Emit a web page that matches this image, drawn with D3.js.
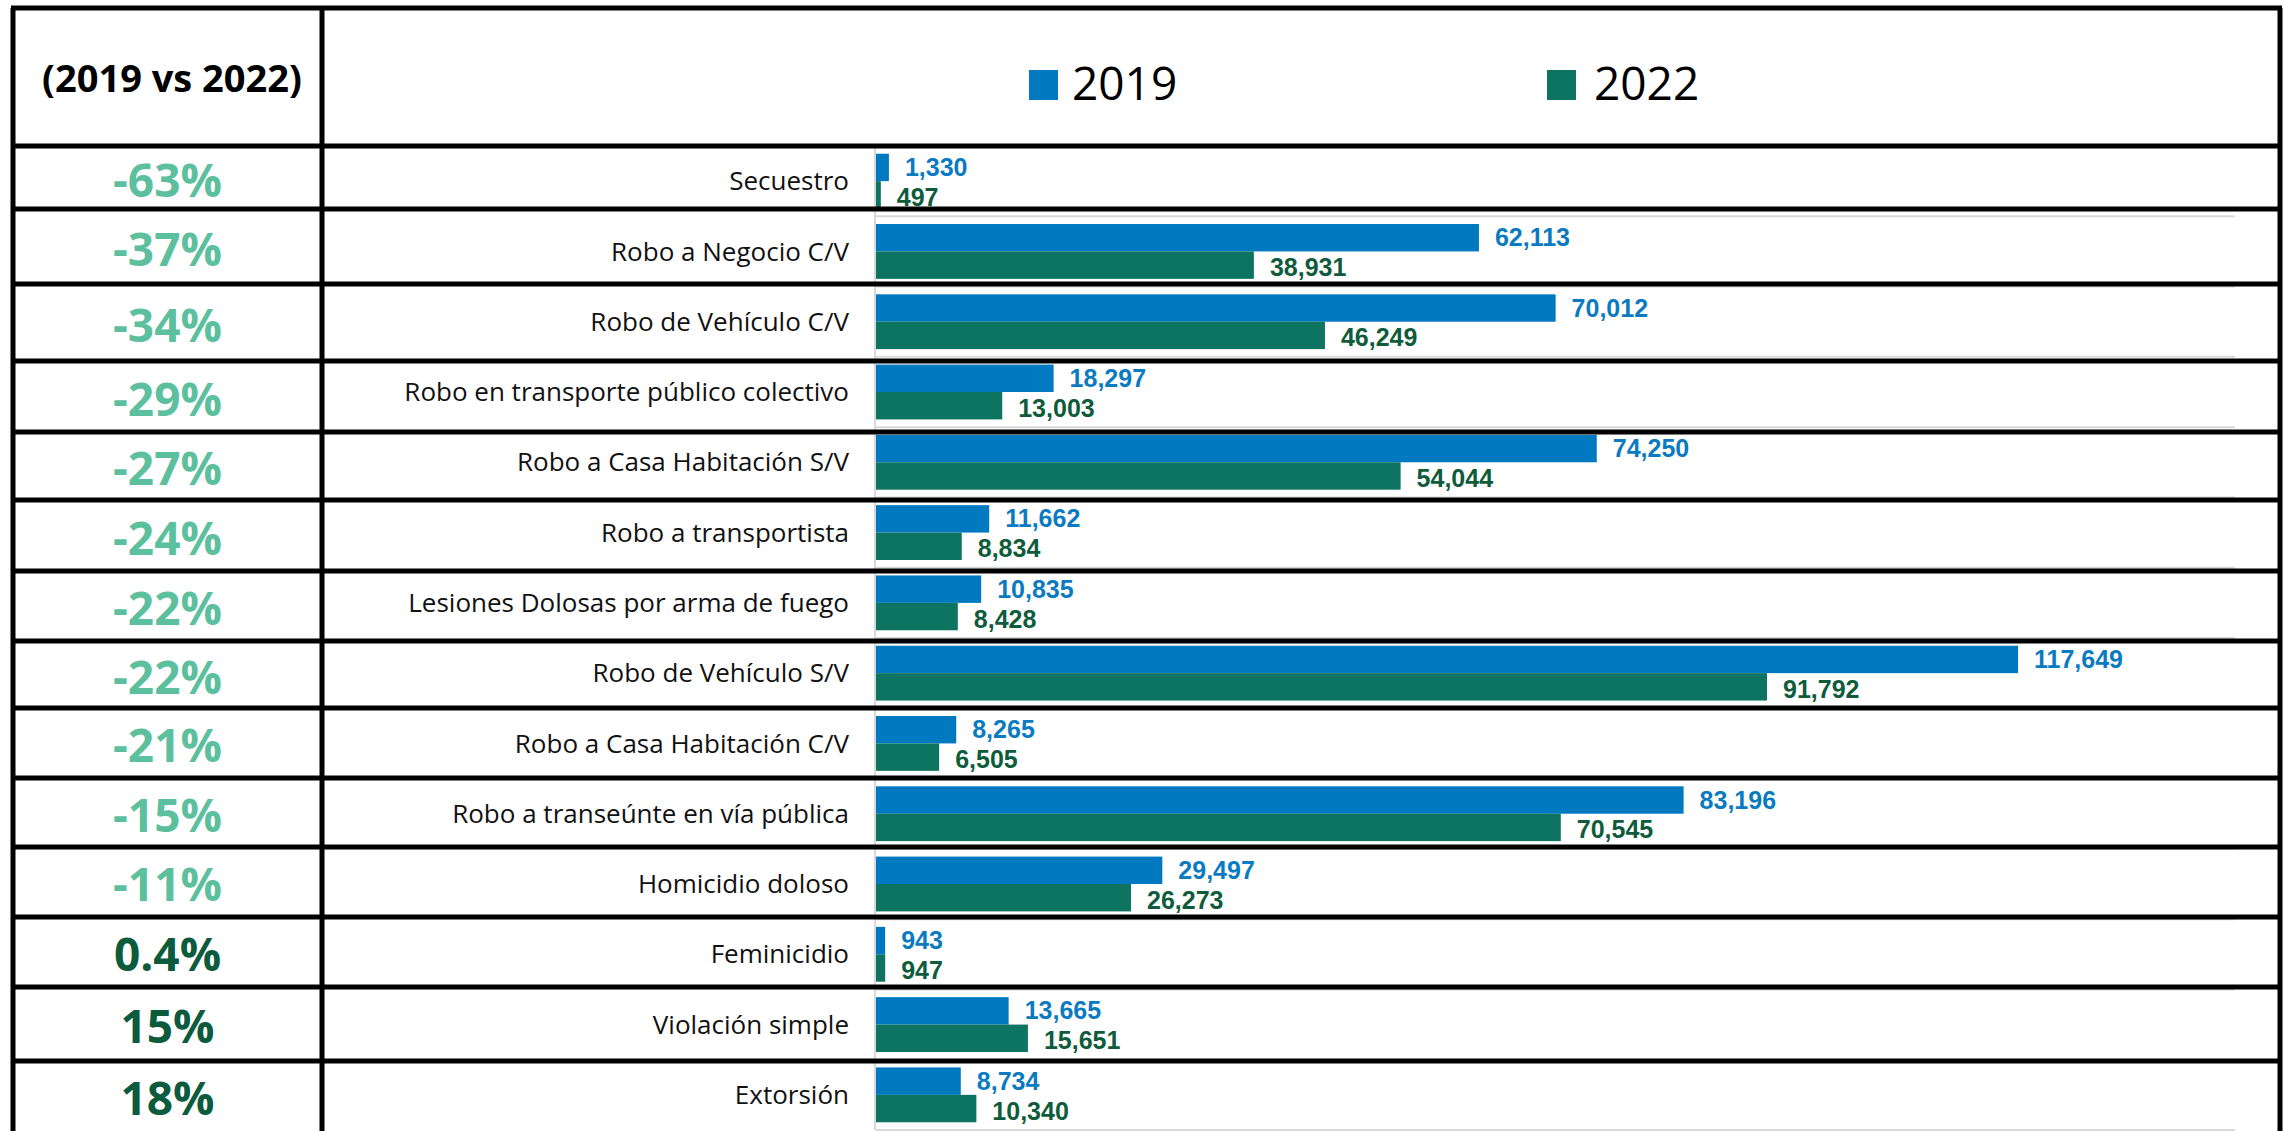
<!DOCTYPE html>
<html>
<head>
<meta charset="utf-8">
<script src="https://cdn.jsdelivr.net/npm/d3@7"></script>
<style>
  html, body { margin: 0; padding: 0; background: #fff; }
  svg { display: block; }
</style>
</head>
<body>
<svg id="chart" width="2290" height="1131"></svg>
<script>
// ---------- DATA ----------
const categories = [
  "Secuestro",
  "Robo a Negocio C/V",
  "Robo de Vehículo C/V",
  "Robo en transporte público colectivo",
  "Robo a Casa Habitación S/V",
  "Robo a transportista",
  "Lesiones Dolosas por arma de fuego",
  "Robo de Vehículo S/V",
  "Robo a Casa Habitación C/V",
  "Robo a transeúnte en vía pública",
  "Homicidio doloso",
  "Feminicidio",
  "Violación simple",
  "Extorsión"
];
const values2019 = [1330, 62113, 70012, 18297, 74250, 11662, 10835, 117649, 8265, 83196, 29497, 943, 13665, 8734];
const values2022 = [497, 38931, 46249, 13003, 54044, 8834, 8428, 91792, 6505, 70545, 26273, 947, 15651, 10340];
const changeLabels = ["-63%", "-37%", "-34%", "-29%", "-27%", "-24%", "-22%", "-22%", "-21%", "-15%", "-11%", "0.4%", "15%", "18%"];
const seriesNames = ["2019", "2022"];
const headerTitle = "(2019 vs 2022)";

// ---------- LAYOUT / STYLE ----------
const W = 2290, H = 1131;
const colors = { "2019": "#0079C1", "2022": "#0D7462" };
const labelColors = { "2019": "#0B7BC1", "2022": "#0E5C3C" };
const pctNeg = "#5CBF9D", pctPos = "#0B5B3C";
const FONT = "'Open Sans', 'Liberation Sans', sans-serif";
const VFONT = "'Liberation Sans', Arial, sans-serif";

const tableLeft = 13, tableDivider = 322, tableRight = 2280, tableTop = 8;
const rowLines = [146, 209, 284, 361, 432, 500, 571, 641, 708, 778, 847, 917, 987, 1061];
const lineW = 5;

const svg = d3.select("#chart");

// ---------- SCALES ----------
const x = d3.scaleLinear().domain([0, 140000]).range([876, 2235]);
const y = d3.scaleBand().domain(categories).range([146, 1130]).paddingInner(0.22).paddingOuter(0.11);
const ySub = d3.scaleBand().domain(seriesNames).range([0, y.bandwidth()]);
const fmt = d3.format(",");

// ---------- CHART GRID (category separators) ----------
const step = y.step();
const gridYs = d3.range(categories.length + 1).map(i => y.range()[0] + i * step);
svg.append("g").selectAll("line").data(gridYs).join("line")
  .attr("x1", x(0)).attr("x2", x.range()[1])
  .attr("y1", d => d).attr("y2", d => d)
  .attr("stroke", "#D9D9D9").attr("stroke-width", 2);

// vertical category axis line
svg.append("line")
  .attr("x1", x(0) - 1).attr("x2", x(0) - 1)
  .attr("y1", y.range()[0]).attr("y2", y.range()[1])
  .attr("stroke", "#D9D9D9").attr("stroke-width", 2);

// ---------- BARS ----------
const rows = categories.map((c, i) => ({ cat: c, "2019": values2019[i], "2022": values2022[i] }));
const groups = svg.append("g").selectAll("g").data(rows).join("g")
  .attr("transform", d => `translate(0,${y(d.cat)})`);

groups.selectAll("rect").data(d => seriesNames.map(s => ({ s, v: d[s] }))).join("rect")
  .attr("x", x(0))
  .attr("y", d => ySub(d.s))
  .attr("width", d => x(d.v) - x(0))
  .attr("height", ySub.bandwidth())
  .attr("fill", d => colors[d.s]);

groups.selectAll("text.val").data(d => seriesNames.map(s => ({ s, v: d[s] }))).join("text")
  .attr("class", "val")
  .attr("x", d => x(d.v) + 16)
  .attr("y", d => ySub(d.s) + ySub.bandwidth() / 2 + (d.s === "2019" ? 8.5 : 11))
  .attr("fill", d => labelColors[d.s])
  .attr("font-family", VFONT).attr("font-weight", 700).attr("font-size", 25)
  .text(d => fmt(d.v));

// ---------- CATEGORY LABELS (axis) ----------
const yAxis = d3.axisLeft(y).tickSize(0).tickPadding(0);
const axG = svg.append("g").attr("transform", `translate(${x(0) - 27},0)`).call(yAxis);
axG.select(".domain").remove();
axG.selectAll("text")
  .attr("font-family", FONT).attr("font-size", 26).attr("fill", "#111")
  .attr("dy", "0.35em");

// ---------- LEGEND ----------
const legendItems = [
  { s: "2019", sx: 1029, tx: 1072 },
  { s: "2022", sx: 1547, tx: 1594 }
];
const lg = svg.append("g").selectAll("g").data(legendItems).join("g");
lg.append("rect").attr("x", d => d.sx).attr("y", 70).attr("width", 29).attr("height", 30)
  .attr("fill", d => colors[d.s]);
lg.append("text").attr("x", d => d.tx).attr("y", 100)
  .attr("font-family", FONT).attr("font-size", 46).attr("fill", "#000")
  .text(d => d.s);

// ---------- TABLE: header + percentage column ----------
svg.append("text")
  .attr("x", 172).attr("y", 92).attr("text-anchor", "middle")
  .attr("font-family", FONT).attr("font-weight", 700).attr("font-size", 38).attr("fill", "#000")
  .text(headerTitle);

const rowBounds = rowLines.map((t, i) => [t, i < rowLines.length - 1 ? rowLines[i + 1] : H]);
svg.append("g").selectAll("text").data(changeLabels).join("text")
  .attr("x", (tableLeft + tableDivider) / 2)
  .attr("y", (d, i) => (rowBounds[i][0] + rowBounds[i][1]) / 2 + 19)
  .attr("text-anchor", "middle")
  .attr("font-family", FONT).attr("font-weight", 700).attr("font-size", 46)
  .attr("fill", d => d.trim().startsWith("-") ? pctNeg : pctPos)
  .text(d => d);

// table lines
const tl = svg.append("g").attr("stroke", "#000").attr("stroke-width", lineW);
tl.append("line").attr("x1", tableLeft - 2).attr("x2", tableRight + 2).attr("y1", tableTop).attr("y2", tableTop);
tl.selectAll("line.row").data(rowLines).join("line").attr("class", "row")
  .attr("x1", tableLeft - 2).attr("x2", tableRight + 2).attr("y1", d => d).attr("y2", d => d);
tl.append("line").attr("x1", tableLeft).attr("x2", tableLeft).attr("y1", tableTop).attr("y2", H);
tl.append("line").attr("x1", tableDivider).attr("x2", tableDivider).attr("y1", tableTop).attr("y2", H);
tl.append("line").attr("x1", tableRight).attr("x2", tableRight).attr("y1", tableTop).attr("y2", H);
</script>
</body>
</html>
